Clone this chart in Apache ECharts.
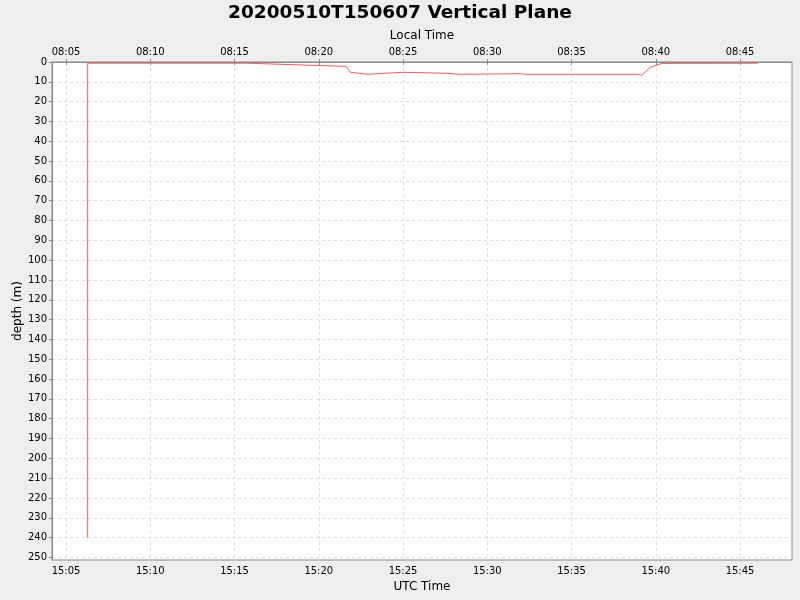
<!DOCTYPE html>
<html><head><meta charset="utf-8">
<script src="https://cdn.jsdelivr.net/npm/echarts@6/dist/echarts.min.js"></script>
<style>html,body{margin:0;padding:0;background:#eeeeee}#c{width:800px;height:600px}</style>
</head><body><div id="c"></div>
<script>
// UTC sample times and depths (m)
const utcTimes = ["15:06:17","15:06:17","15:15:43","15:21:37","15:21:53","15:22:55","15:25:00","15:27:35","15:28:23","15:31:57","15:32:14","15:38:57","15:39:10","15:39:40","15:40:15","15:40:26","15:46:04"];
const depths   = [240, 0.6, 0.6, 2.2, 5.2, 6.2, 5.2, 5.7, 6.2, 5.9, 6.2, 6.2, 6.7, 2.7, 1.0, 0.7, 0.6];
const utcTicks   = ["15:05","15:10","15:15","15:20","15:25","15:30","15:35","15:40","15:45"];
const localTicks = ["08:05","08:10","08:15","08:20","08:25","08:30","08:35","08:40","08:45"];
const depthTicks = [0,10,20,30,40,50,60,70,80,90,100,110,120,130,140,150,160,170,180,190,200,210,220,230,240,250];
const xRange = ["15:04:10","15:48:05"];
const depthRange = [0, 251.3];

function toMin(s){const p=s.split(':').map(Number);return p[0]*60+p[1]+(p[2]||0)/60;}
const tickVals = utcTicks.map(toMin);
const localMap = {}; tickVals.forEach((v,i)=>{localMap[v.toFixed(3)]=localTicks[i];});
const utcMap = {}; tickVals.forEach((v,i)=>{utcMap[v.toFixed(3)]=utcTicks[i];});
const data = utcTimes.map((t,i)=>[toMin(t), depths[i]]);

const font = 'DejaVu Sans';
const chart = echarts.init(document.getElementById('c'), null, {renderer:'canvas'});
const axisCommon = {
  type:'value', min: toMin(xRange[0]), max: toMin(xRange[1]),
  axisLine:{show:true, lineStyle:{color:'#888', width:1}},
  axisTick:{show:true, length:3, lineStyle:{color:'#888'}, customValues: tickVals},
  nameLocation:'middle',
  nameTextStyle:{fontFamily:font, fontSize:12, color:'#000'}
};
chart.setOption({
  animation:false,
  backgroundColor:'#eeeeee',
  title:{text:'20200510T150607 Vertical Plane', left:'center', top:-1,
    textStyle:{fontFamily:font, fontWeight:'bold', fontSize:18.5, color:'#000'}},
  grid:{left:52, right:8, top:62, bottom:40, show:true, backgroundColor:'#ffffff', borderColor:'#888', borderWidth:1,
    containLabel:false, outerBoundsMode:'none'},
  graphic:[{
    type:'text', x:18, y:311, rotation:Math.PI/2,
    style:{text:'depth (m)', fontFamily:font, fontSize:12, fill:'#000', align:'center', verticalAlign:'middle'}
  }],
  xAxis:[
    Object.assign({}, axisCommon, {
      position:'bottom', name:'UTC Time', nameGap:21,
      axisLabel:{fontFamily:font, fontSize:10, color:'#000', margin:6, customValues: tickVals,
        formatter:v=>utcMap[v.toFixed(3)]||''},
      splitLine:{show:true, lineStyle:{color:'#dddddd', type:[3,3], width:1}}
    }),
    Object.assign({}, axisCommon, {
      position:'top', name:'Local Time', nameGap:12,
      axisLabel:{fontFamily:font, fontSize:10, color:'#000', margin:5, customValues: tickVals,
        formatter:v=>localMap[v.toFixed(3)]||''},
      splitLine:{show:false}
    })
  ],
  yAxis:{
    type:'value', inverse:true, min:depthRange[0], max:depthRange[1],
    axisLine:{show:true, lineStyle:{color:'#888'}},
    axisTick:{show:true, length:3, lineStyle:{color:'#888'}, customValues: depthTicks},
    axisLabel:{fontFamily:font, fontSize:10, color:'#000', margin:5, customValues: depthTicks},
    splitLine:{show:true, lineStyle:{color:'#dddddd', type:[3,3], width:1}}
  },
  series:[{
    type:'line', xAxisIndex:0, data:data, showSymbol:false, symbol:'none',
    lineStyle:{color:'#ff5555', width:1}, itemStyle:{color:'#ff5555'}
  }]
});
</script></body></html>
